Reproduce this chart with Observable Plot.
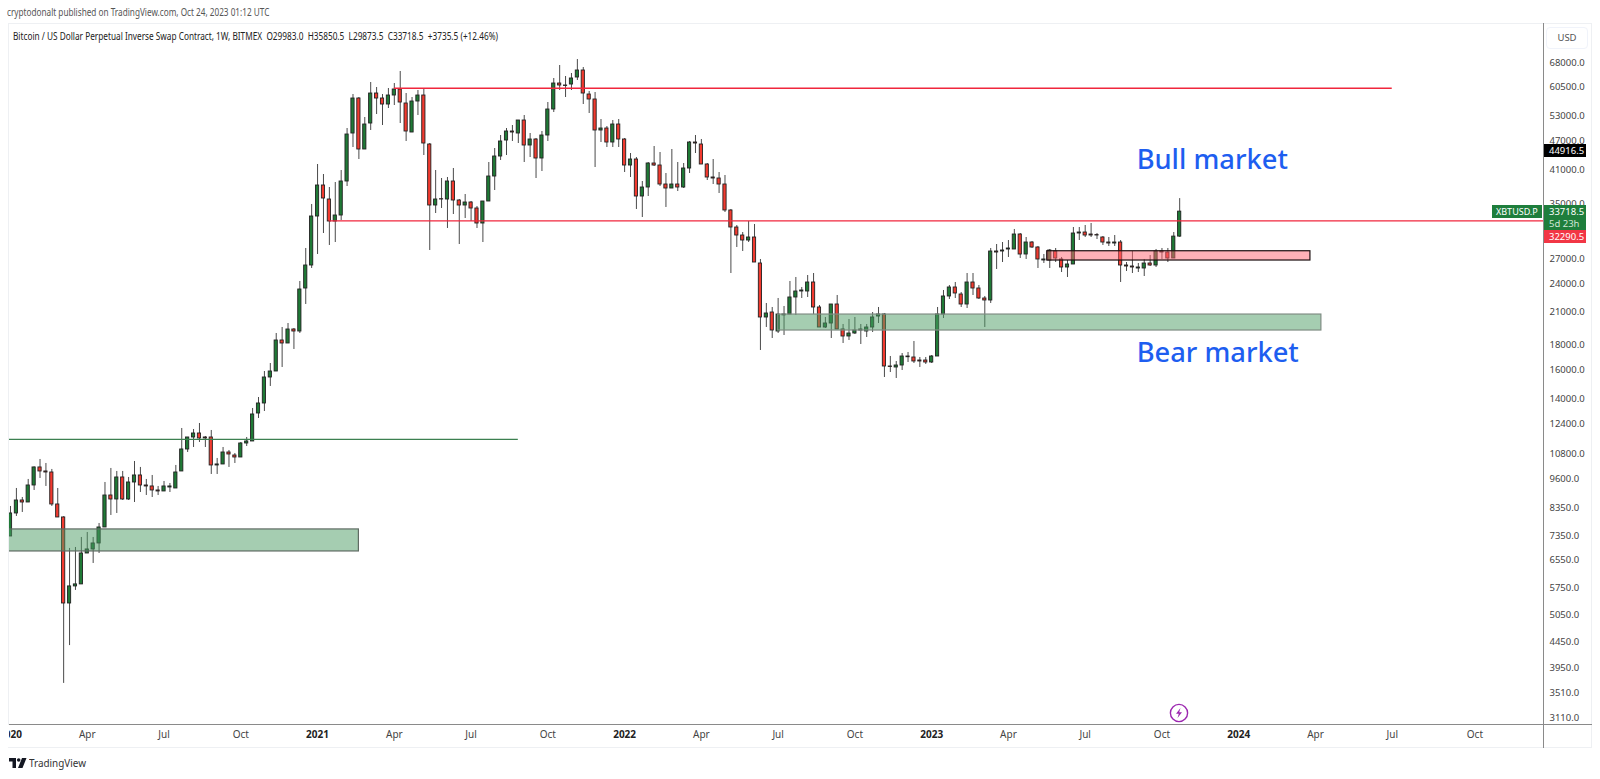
<!DOCTYPE html>
<html>
<head>
<meta charset="utf-8">
<script src="https://cdn.jsdelivr.net/npm/d3@7"></script>
<script src="https://cdn.jsdelivr.net/npm/@observablehq/plot@0.6"></script>
<style>
html,body{margin:0;padding:0;background:#fff;overflow:hidden;width:1600px;height:779px}
#wrap{position:relative;width:1600px;height:779px;font-family:"Noto Sans",sans-serif}
#head{height:23px;box-sizing:border-box;padding:6px 0 0 7px;font:10px/12px "Noto Sans",sans-serif;color:#555}
#head span{display:inline-block;transform:scaleX(.82);transform-origin:left;white-space:nowrap}
#chart svg{display:block}
.ov{position:absolute}
.lab{position:absolute;box-sizing:border-box;color:#fff;font:9.5px/13px "Noto Sans",sans-serif;padding-left:5px;white-space:nowrap}
</style>
</head>
<body>
<div id="wrap">
<div id="head"><span>cryptodonalt published on TradingView.com, Oct 24, 2023 01:12 UTC</span></div>
<div id="chart"></div>
<div class="ov" style="left:13px;top:30px;font:10px/12px 'Noto Sans',sans-serif;color:#222;white-space:pre;transform:scaleX(.825);transform-origin:left">Bitcoin / US Dollar Perpetual Inverse Swap Contract, 1W, BITMEX  O29983.0  H35850.5  L29873.5  C33718.5  +3735.5 (+12.46%)</div>
<div class="ov" style="left:8px;top:23px;width:1584px;height:725px;border:1px solid #eef0f3;box-sizing:border-box"></div>
<div class="ov" style="left:1543px;top:23px;width:1px;height:725px;background:#8a8a8a"></div>
<div class="ov" style="left:9px;top:724px;width:1583px;height:1px;background:#8a8a8a"></div>
<div class="ov" style="left:0;top:725px;width:9px;height:22px;background:#fff"></div>
<div class="ov" style="left:1546px;top:27px;width:42px;height:22px;border:1px solid #f0f3fa;border-radius:4px;box-sizing:border-box;font:9.5px/20px 'Noto Sans',sans-serif;color:#555;text-align:center;background:#fff">USD</div>
<div class="lab" style="left:1544px;top:144px;width:42px;height:13px;background:#000">44916.5</div>
<div class="lab" style="left:1492px;top:205px;width:50px;height:13px;background:#1e7e3c;font-size:9px;padding-left:4px">XBTUSD.P</div>
<div class="lab" style="left:1544px;top:205px;width:42px;height:13px;background:#1e7e3c">33718.5</div>
<div class="lab" style="left:1544px;top:218px;width:42px;height:12px;background:#1e7e3c;line-height:12px;color:#cfe6d5">5d 23h</div>
<div class="lab" style="left:1544px;top:230px;width:42px;height:13px;background:#f23645">32290.5</div>
<svg class="ov" style="left:1169px;top:703px" width="20" height="20" viewBox="0 0 20 20"><circle cx="10" cy="10" r="8.6" fill="#fff" stroke="#9c27b0" stroke-width="1.4"/><path d="M11.5 5 L7 10.8 H9.8 L8.5 15 L13 9.2 H10.2 Z" fill="#9c27b0"/></svg>
<svg class="ov" style="left:9px;top:757px" width="18" height="12" viewBox="0 0 18 12"><path d="M0 1h7v10H3.5V4.5H0z M13 1h4.5l-4 10H9z" fill="#131722"/><circle cx="9.7" cy="3" r="1.8" fill="#131722"/></svg>
<div class="ov" style="left:29px;top:755px;font:11px/16px 'Noto Sans',sans-serif;color:#333;transform:scaleX(.9);transform-origin:left">TradingView</div>
</div>
<script>
const opens = [
7316,8152,8665,8584,9299,10122,9933,9885,8504,8000,
5338,5784,5839,6753,6882,7079,7632,8871,8706,9656,
8706,9431,9747,9299,9256,9083,9041,9212,9169,9933,
11015,11654,11875,11654,11654,10217,10265,10860,10708,10608,
11330,11438,13047,13675,15454,15896,18392,18134,19368,19186,
23488,26172,32955,38128,35699,32189,33110,38853,48694,57408,
45164,51039,58773,57408,55810,58223,59891,56073,48923,56604,
58223,46238,34705,35750,35699,38853,35531,34705,35198,34220,
31887,35365,39777,43701,47118,49155,48694,51765,46022,47340,
43292,48238,54514,61604,61028,61315,63369,65491,58497,57139,
49387,49853,46675,50799,47340,41889,43089,36206,37771,42285,
41889,38307,37594,38307,37771,41303,46675,46238,42087,39591,
39405,38307,33900,31293,30137,29437,29855,26419,20493,20980,
19186,20700,20784,22515,23159,23159,24160,21480,19551,19922,
21785,19368,18741,19007,19368,19186,19551,20589,20784,16274,
16198,16351,17058,16978,16740,16740,16583,17058,20784,22621,
23599,22834,21785,24160,23488,22409,22199,27953,27953,28217,
28217,30279,27561,29161,28484,26795,26795,27953,26921,25927,
26295,30422,30565,30279,30200,29855,29161,29024,29161,26172,
26049,25805,25805,26419,26172,27953,27821,27048,29983];
const highs = [
8425,9169,8788,9566,10150,10509,10313,10027,9169,8030,
6915,6947,7282,7454,7282,7777,9431,10074,9933,9933,
9656,10410,10122,9566,9747,9256,9476,9387,10217,12158,
11654,12101,12447,11709,12045,10559,11118,10963,10809,11383,
11654,13358,14065,15896,16505,19007,19551,19922,19459,24274,
28350,34869,42087,40153,37771,38669,40916,49853,58497,57678,
52500,61894,60457,58497,60173,61604,65184,58773,57678,59610,
59891,46456,40916,39405,39591,41303,35699,36548,35365,34543,
35365,42484,45377,48238,49853,50561,51765,52995,48694,47563,
49155,56337,63072,67048,63667,64571,68960,66421,59331,59050,
52008,50324,51765,52008,47563,44321,43496,38853,42484,45806,
44530,40342,45164,42484,42285,46897,48238,47340,42285,43089,
40532,39965,34059,31589,30565,32189,31737,26921,21888,21480,
22409,21581,24274,24735,23599,24968,25204,21683,20493,21785,
22727,19829,20301,20493,19829,19829,20980,21480,20882,17058,
16662,17300,17382,18306,16978,16978,17138,21480,23268,23822,
24160,23050,25204,25204,23822,22621,28350,28888,29161,29437,
31001,30422,29855,29299,28618,27561,28217,28350,27175,26795,
31293,31293,31589,31887,30422,29996,29855,30137,29437,26543,
27953,26419,26921,27432,28217,28350,28350,30565,35850.5];
const lows = [
7316,8038,8190,8584,9083,9611,9256,8425,8000,3665,
4379,5676,5839,6753,6443,6753,7632,8076,8152,8665,
8665,8584,8997,8871,8788,8871,9041,8997,9169,9933,
10860,11118,11383,11118,9793,9793,10265,10122,10313,10608,
11171,11438,12744,13170,14814,15896,16198,18134,17630,19007,
21785,25805,27561,30422,28753,29161,32341,37949,45591,43089,
45164,49387,53245,50561,54771,55548,51039,46897,48923,52995,
43907,28085,33423,34220,31147,33266,28888,32646,32189,31147,
29161,35365,37242,42887,43907,46897,46456,42484,43496,39405,
40724,46897,53748,59610,57678,59610,62482,55810,53496,41497,
46675,45591,45591,45591,40532,39591,34059,32800,36206,41693,
37949,34381,37594,37067,37594,40342,44321,42087,39036,38307,
36720,33580,25204,28484,27953,29161,26543,17547,19551,18566,
19007,18829,20784,20686,22409,22515,20784,19551,19459,18566,
19368,18134,18392,18918,18049,18653,19097,19922,15454,15821,
15381,15971,16583,16505,16198,16428,16505,17058,20397,22304,
22409,21480,21379,22727,22304,19551,21888,25684,26543,27175,
28217,27048,26921,28350,25805,26419,25805,26543,25323,24735,
26295,29437,29855,29855,29576,28753,28618,28618,24160,25444,
25204,25323,24851,26049,25927,26921,26543,27048,29873.5];
const closes = [
8152,8665,8584,9299,10122,9933,9885,8504,8000,5338,
5784,5839,6753,6882,7079,7632,8871,8706,9656,8706,
9431,9747,9299,9256,9083,9041,9256,9256,9885,11015,
11654,11875,11600,11600,10217,10265,10860,10759,10608,11330,
11438,12986,13675,15454,15896,18392,18134,19368,19186,23378,
26172,32955,38128,35867,32189,33110,38853,48465,57408,45164,
50799,58773,57408,55810,58223,59891,56337,49155,56604,58223,
46456,34705,35699,35699,38853,35531,34705,35198,34220,31887,
35365,39777,43701,46897,49155,48923,51765,46022,47340,43292,
48238,54514,61604,61028,60900,63072,65491,58773,57139,49387,
49853,46675,50799,47340,41889,43089,36206,37771,42285,41889,
38307,37594,38307,37771,41303,46675,46456,42087,39591,39405,
38307,33900,31293,30137,29437,29855,26543,20493,20882,19277,
20784,20784,22515,23159,23268,24160,21480,19551,19922,21785,
19368,18741,19007,19277,19277,19551,20493,20784,16274,16240,
16351,17058,17000,16662,16662,16583,17058,20784,22621,23599,
22942,21785,24160,23488,22409,22199,27953,27821,28085,28350,
30279,27561,29161,28484,26921,26921,28085,27048,25927,26295,
30422,30565,30137,30137,30137,29161,29024,29161,26172,26049,
25927,25927,26419,26172,27953,27821,27048,29983,33718.5];

const firstWeek = "2020-01-06";
const priceTicks = [68000,60500,53000,47000,41000,35000,27000,24000,21000,18000,16000,14000,12400,10800,9600,8350,7350,6550,5750,5050,4450,3950,3510,3110];
const monthTicks = [["2020-04-06","Apr"],["2020-07-06","Jul"],["2020-10-05","Oct"],["2021-04-05","Apr"],["2021-07-05","Jul"],["2021-10-04","Oct"],["2022-04-04","Apr"],["2022-07-04","Jul"],["2022-10-03","Oct"],["2023-04-03","Apr"],["2023-07-03","Jul"],["2023-10-02","Oct"],["2024-04-01","Apr"],["2024-07-01","Jul"],["2024-10-07","Oct"]];
const yearTicks = [["2020-01-06","2020"],["2021-01-04","2021"],["2022-01-03","2022"],["2023-01-02","2023"],["2024-01-01","2024"]];
const levels = [
  {x1:"2021-04-05",x2:"2024-07-01",price:60250,color:"#f0263c",w:1.4},
  {x1:"2021-01-18",x2:"end",price:32290.5,color:"#f0263c",w:1.4},
  {x1:"start",x2:"2021-08-30",price:11549,color:"#3c8050",w:1.2}
];
const boxes = [
  {x1:"before",x2:"2021-02-22",top:7562,bottom:6818,fill:"#4c9b64",stroke:"#5f6b63"},
  {x1:"2022-07-04",x2:"2024-04-08",top:20780,bottom:19276,fill:"#4c9b64",stroke:"#7f8c83"},
  {x1:"2023-05-19",x2:"2024-03-26",top:27987,bottom:26792,fill:"#ff6470",stroke:"#1c1010"}
];
const notes = [
  {x:"2023-09-02",price:43000,text:"Bull market"},
  {x:"2023-09-02",price:17300,text:"Bear market"}
];

const DAY = 864e5;
const t0 = +new Date(firstWeek);
const domainX = [new Date(t0 - 1.185*DAY), new Date(t0 + 1817.3*DAY)];
const dt = v => v==="before" ? new Date(t0 - 20*DAY) : v==="start" ? domainX[0] : v==="end" ? domainX[1] : new Date(v);
const candles = opens.map((o,i)=>({date:new Date(t0+i*7*DAY),o,h:highs[i],l:lows[i],c:closes[i]}));
const half = 1.9*DAY;
const body = (rows,fill)=>Plot.rect(rows,{x1:d=>new Date(+d.date-half),x2:d=>new Date(+d.date+half),y1:"o",y2:"c",fill,stroke:"#222",strokeWidth:0.9,clip:true});
const monthMap = new Map(monthTicks), yearMap = new Map(yearTicks);
const key = d=>d.toISOString().slice(0,10);

const plot = Plot.plot({
  width:1600,height:725,
  marginTop:0,marginBottom:24,marginLeft:9,marginRight:57,
  style:{background:"transparent",fontFamily:"'Noto Sans',sans-serif"},
  x:{type:"utc",domain:domainX},
  y:{type:"log",domain:[3021,81695],axis:null},
  marks:[
    Plot.ruleX(candles,{x:"date",y1:"l",y2:"h",stroke:"#4a4a4a",strokeWidth:1,clip:true}),
    body(candles.filter(d=>d.c>=d.o),"#1f7a36"),
    body(candles.filter(d=>d.c<d.o),"#f23a2f"),
    Plot.rect(boxes,{x1:d=>dt(d.x1),x2:d=>dt(d.x2),y1:"bottom",y2:"top",fill:"fill",fillOpacity:0.5,stroke:"stroke",strokeWidth:1.2,clip:true}),
    ...levels.map(l=>Plot.ruleY([l.price],{x1:()=>dt(l.x1),x2:()=>dt(l.x2),stroke:l.color,strokeWidth:l.w})),
    Plot.text(notes,{x:d=>new Date(d.x),y:"price",text:"text",textAnchor:"start",fill:"#1e5ef0",fontSize:27.3,fontWeight:500}),
    Plot.text(priceTicks,{y:d=>d,text:d=>d.toFixed(1),frameAnchor:"right",dx:6,textAnchor:"start",fontSize:9.5,fill:"#444"}),
    Plot.axisX({anchor:"bottom",ticks:monthTicks.map(d=>new Date(d[0])),tickSize:0,tickPadding:6,label:null,fontSize:10,fill:"#444",tickFormat:d=>monthMap.get(key(d))}),
    Plot.axisX({anchor:"bottom",ticks:yearTicks.map(d=>new Date(d[0])),tickSize:0,tickPadding:6,label:null,fontSize:10,fontWeight:700,fill:"#222",tickFormat:d=>yearMap.get(key(d))})
  ]
});
document.getElementById("chart").appendChild(plot);
</script>
</body>
</html>
